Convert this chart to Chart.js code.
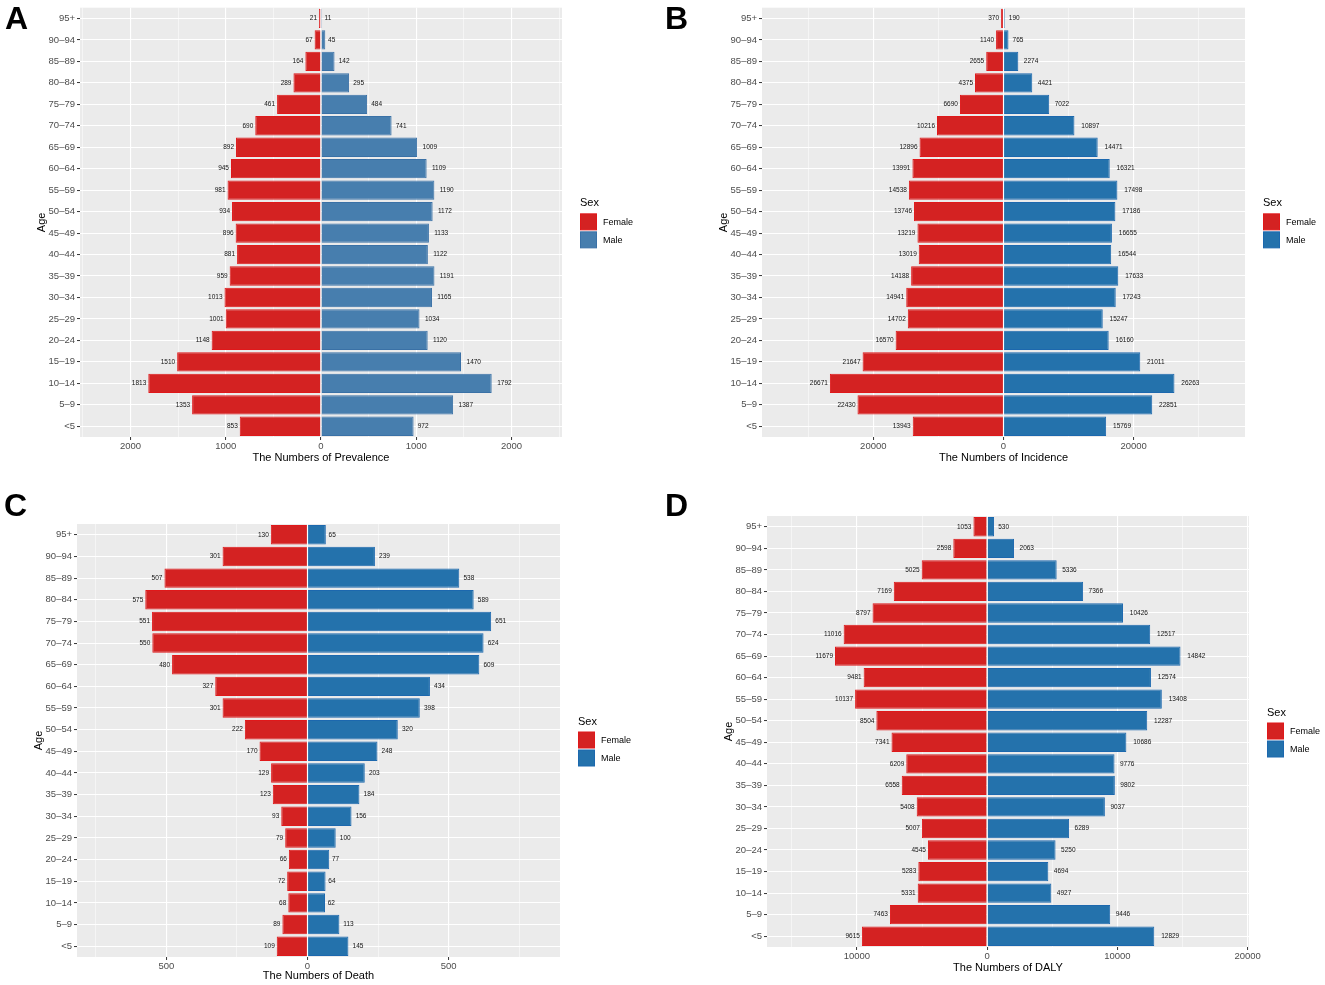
<!DOCTYPE html>
<html>
<head>
<meta charset="utf-8">
<script src="https://cdn.jsdelivr.net/npm/chart.js@4.4.1/dist/chart.umd.min.js"></script>
<style>
  html, body { margin: 0; padding: 0; background: #fff; }
  #page { position: relative; width: 1325px; height: 985px; overflow: hidden; }
  .panel { position: absolute; width: 660px; height: 490px; }
  .tag { position: absolute; font: bold 32px "Liberation Sans", Arial, sans-serif; line-height: 32px; color: #000; }
</style>
</head>
<body>
<div id="page">
  <div class="panel" style="left:0;top:0"><canvas id="chartA" width="660" height="490"></canvas></div>
  <div class="panel" style="left:665px;top:0"><canvas id="chartB" width="660" height="490"></canvas></div>
  <div class="panel" style="left:0;top:495px"><canvas id="chartC" width="660" height="490"></canvas></div>
  <div class="panel" style="left:665px;top:495px"><canvas id="chartD" width="660" height="490"></canvas></div>
  <div class="tag" style="left:5px;top:2px">A</div>
  <div class="tag" style="left:665px;top:2px">B</div>
  <div class="tag" style="left:4px;top:489px">C</div>
  <div class="tag" style="left:665px;top:489px">D</div>
</div>
<script>
// age groups, youngest first (drawn bottom to top)
const ages = ['<5', '5\u20139', '10\u201314', '15\u201319', '20\u201324', '25\u201329', '30\u201334', '35\u201339',
  '40\u201344', '45\u201349', '50\u201354', '55\u201359', '60\u201364', '65\u201369', '70\u201374', '75\u201379',
  '80\u201384', '85\u201389', '90\u201394', '95+'];

const prevalenceFemale = [853, 1353, 1813, 1510, 1148, 1001, 1013, 959, 881, 896, 934, 981, 945, 892, 690, 461, 289, 164, 67, 21];
const prevalenceMale = [972, 1387, 1792, 1470, 1120, 1034, 1165, 1191, 1122, 1133, 1172, 1190, 1109, 1009, 741, 484, 295, 142, 45, 11];

const incidenceFemale = [13943, 22430, 26671, 21647, 16570, 14702, 14941, 14188, 13019, 13219, 13746, 14538, 13991, 12896, 10216, 6690, 4375, 2655, 1140, 370];
const incidenceMale = [15769, 22851, 26263, 21011, 16160, 15247, 17243, 17633, 16544, 16655, 17186, 17498, 16321, 14471, 10897, 7022, 4421, 2274, 765, 190];

const deathFemale = [109, 89, 68, 72, 66, 79, 93, 123, 129, 170, 222, 301, 327, 480, 550, 551, 575, 507, 301, 130];
const deathMale = [145, 113, 62, 64, 77, 100, 156, 184, 203, 248, 320, 398, 434, 609, 624, 651, 589, 538, 239, 65];

const dalyFemale = [9615, 7463, 5331, 5283, 4545, 5007, 5408, 6558, 6209, 7341, 8504, 10137, 9481, 11679, 11016, 8797, 7169, 5025, 2598, 1053];
const dalyMale = [12829, 9446, 4927, 4694, 5250, 6289, 9037, 9802, 9776, 10686, 12287, 13408, 12574, 14842, 12517, 10426, 7366, 5336, 2063, 530];

// labelled x ticks
const prevalenceTicks = [-2000, -1000, 0, 1000, 2000];
const incidenceTicks = [-20000, 0, 20000];
const deathTicks = [-500, 0, 500];
const dalyTicks = [-10000, 0, 10000, 20000];

const FONT = '"Liberation Sans", Arial, Helvetica, sans-serif';
const RED = '#D42222', RED_EDGE = '#E0181A';

const panelBg = {
  id: 'panelBg',
  beforeDraw(chart) {
    const { ctx, chartArea: a } = chart;
    ctx.save();
    ctx.fillStyle = '#EBEBEB';
    ctx.fillRect(a.left, a.top, a.right - a.left, a.bottom - a.top);
    ctx.restore();
  }
};

const barLabels = {
  id: 'barLabels',
  afterDatasetsDraw(chart) {
    const ctx = chart.ctx;
    ctx.save();
    ctx.font = '6.5px ' + FONT;
    ctx.fillStyle = '#111';
    ctx.textBaseline = 'middle';
    chart.data.datasets.forEach((ds, i) => {
      chart.getDatasetMeta(i).data.forEach((bar, j) => {
        const v = ds.data[j];
        const txt = String(Math.abs(v));
        if (v < 0) {
          ctx.textAlign = 'right';
          ctx.fillText(txt, bar.x - 2, bar.y);
        } else {
          ctx.textAlign = 'left';
          ctx.fillText(txt, bar.x + 0.38 * ctx.measureText(txt).width, bar.y);
        }
      });
    });
    ctx.restore();
  }
};

const sexLegend = {
  id: 'sexLegend',
  afterDraw(chart) {
    const { ctx, chartArea: a } = chart;
    const x = a.right + 18, mid = (a.top + a.bottom) / 2;
    ctx.save();
    ctx.textBaseline = 'middle';
    ctx.textAlign = 'left';
    ctx.fillStyle = '#000';
    ctx.font = '11px ' + FONT;
    ctx.fillText('Sex', x, mid - 19);
    chart.data.datasets.forEach((ds, i) => {
      const top = mid - 9 + i * 18;
      ctx.fillStyle = ds.backgroundColor;
      ctx.fillRect(x + 0.5, top + 0.5, 16, 16);
      ctx.strokeStyle = ds.borderColor;
      ctx.lineWidth = 1;
      ctx.strokeRect(x + 0.5, top + 0.5, 16, 16);
      ctx.fillStyle = '#000';
      ctx.font = '9px ' + FONT;
      ctx.fillText(ds.label, x + 23, top + 9);
    });
    ctx.restore();
  }
};

function gridValues(ticks, min, max) {
  const half = (ticks[1] - ticks[0]) / 2;
  const out = [];
  for (let v = Math.ceil(min / half) * half; v <= max; v += half) out.push(v);
  return out;
}

function makePanel(id, p) {
  const step = p.ticks[1] - p.ticks[0];
  const isMajor = v => Math.abs(v % step) < 1e-6;
  new Chart(document.getElementById(id), {
    type: 'bar',
    data: {
      labels: ages,
      datasets: [
        { label: 'Female', data: p.female.map(v => -v), backgroundColor: RED, borderColor: RED_EDGE,
          borderWidth: 1, barPercentage: 1, categoryPercentage: 0.9 },
        { label: 'Male', data: p.male, backgroundColor: p.blue, borderColor: p.blueEdge,
          borderWidth: 1, barPercentage: 1, categoryPercentage: 0.9 }
      ]
    },
    options: {
      indexAxis: 'y',
      responsive: false,
      animation: false,
      layout: { padding: { left: 0, right: p.padRight, top: p.padTop, bottom: 0 } },
      plugins: { legend: { display: false }, tooltip: { enabled: false } },
      scales: {
        x: {
          type: 'linear', min: p.min, max: p.max, stacked: true,
          afterBuildTicks: s => { s.ticks = gridValues(p.ticks, p.min, p.max).map(v => ({ value: v })); },
          afterFit: s => { s.height = p.xHeight; },
          grid: {
            color: '#FFFFFF',
            lineWidth: c => (c.tick && isMajor(c.tick.value)) ? 1.1 : 0.5,
            tickColor: c => (c.tick && isMajor(c.tick.value)) ? '#333333' : 'rgba(0,0,0,0)',
            tickWidth: 1, tickLength: 3
          },
          border: { display: false },
          ticks: {
            autoSkip: false, maxRotation: 0, padding: 1, color: '#4D4D4D',
            font: { family: FONT, size: 9.5 },
            callback: v => isMajor(v) ? String(Math.abs(v)) : ''
          },
          title: {
            display: true, text: p.title, color: '#000',
            font: { family: FONT, size: 11 }, padding: { top: 0, bottom: p.titlePad }
          }
        },
        y: {
          type: 'category', reverse: true, stacked: true, offset: true,
          afterFit: s => { s.width = p.yWidth; },
          grid: { offset: false, color: '#FFFFFF', lineWidth: 1.1, tickColor: '#333333', tickWidth: 1, tickLength: 3 },
          border: { display: false },
          ticks: { autoSkip: false, padding: 2, color: '#4D4D4D', font: { family: FONT, size: 9.5 } },
          title: {
            display: true, text: 'Age', color: '#000',
            font: { family: FONT, size: 11 }, padding: { top: p.yWidth - 44.6, bottom: 0 }
          }
        }
      }
    },
    plugins: [panelBg, barLabels, sexLegend]
  });
}

makePanel('chartA', {
  female: prevalenceFemale, male: prevalenceMale, ticks: prevalenceTicks,
  min: -2530, max: 2530, title: 'The Numbers of Prevalence',
  blue: '#477EAE', blueEdge: '#3A71A6',
  yWidth: 80, xHeight: 53, padTop: 3, padRight: 98, titlePad: 25
});
makePanel('chartB', {
  female: incidenceFemale, male: incidenceMale, ticks: incidenceTicks,
  min: -37100, max: 37100, title: 'The Numbers of Incidence',
  blue: '#2472AC', blueEdge: '#1C68AE',
  yWidth: 97, xHeight: 53, padTop: 3, padRight: 80, titlePad: 25
});
makePanel('chartC', {
  female: deathFemale, male: deathMale, ticks: deathTicks,
  min: -817, max: 895, title: 'The Numbers of Death',
  blue: '#2472AC', blueEdge: '#1C68AE',
  yWidth: 77, xHeight: 28, padTop: 29, padRight: 100, titlePad: 2
});
makePanel('chartD', {
  female: dalyFemale, male: dalyMale, ticks: dalyTicks,
  min: -16900, max: 20100, title: 'The Numbers of DALY',
  blue: '#2472AC', blueEdge: '#1C68AE',
  yWidth: 102, xHeight: 38, padTop: 21, padRight: 76, titlePad: 10
});
</script>
</body>
</html>
